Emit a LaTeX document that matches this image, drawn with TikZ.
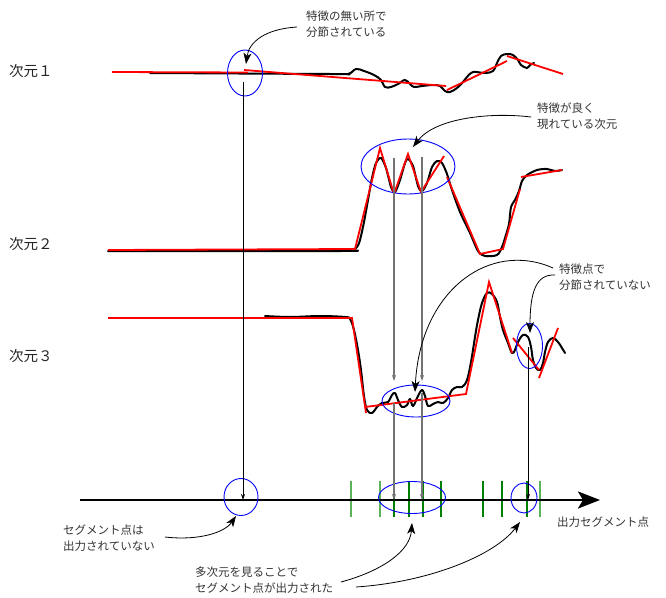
\documentclass[tikz,border=0pt]{standalone}
\usepackage{fontspec}
\newfontfamily\jp{Noto Sans CJK JP}
\usetikzlibrary{arrows.meta,shapes.geometric}
\definecolor{tickdark}{RGB}{0,128,0}
\definecolor{ticklight}{RGB}{90,180,90}
\begin{document}
\begin{tikzpicture}[x=1pt,y=-1pt,
  sig/.style={line width=2pt, black, line cap=round, line join=round},
  fitline/.style={line width=1.8pt, red},
  ring/.style={draw=blue, line width=0.9pt, ellipse, inner sep=0pt, outer sep=0pt},
  drop/.style={line width=0.8pt, black, -{Stealth[length=6pt,width=4pt]}},
  dropg/.style={line width=1.1pt, black!55, -{Stealth[length=6pt,width=4pt]}},
  ann/.style={line width=0.8pt, black, -{Stealth[length=11pt,width=8pt,inset=3pt]}},
  note/.style={font=\jp\fontsize{11.5}{16}\selectfont, text=black!80, align=left, anchor=west, inner sep=0pt},
  dimlab/.style={font=\jp\fontsize{14.5}{17}\selectfont, text=black!85, anchor=west, inner sep=0pt},
  tickA/.style={line width=1.1pt, draw=tickdark},
  tickB/.style={line width=1.1pt, draw=ticklight},
]
\fill[white] (0,0) rectangle (666,597);
\useasboundingbox (0,0) rectangle (666,597);

% labels
\node[dimlab] (lab1) at (9,71) {次元１};
\node[dimlab] (lab2) at (9,244) {次元２};
\node[dimlab] (lab3) at (9,356) {次元３};

% notes
\node[note] (t1) at (306,24.5) {特徴の無い所で\\分節されている};
\node[note] (t2) at (537,116) {特徴が良く\\現れている次元};
\node[note] (t3) at (559,277.5) {特徴点で\\分節されていない};
\node[note] (t4) at (63,538) {セグメント点は\\出力されていない};
\node[note] (t5) at (195,580.5) {多次元を見ることで\\セグメント点が出力された};
\node[note] (out) at (557,522) {出力セグメント点};

% ---- dimension 1 ----
\draw[sig] plot[smooth, tension=0.6] coordinates {(150,73) (330,74) (348,74) (356,69) (364,71) (374,75) (381,80) (385,87) (391,87) (398,84) (405,80) (410,84) (414,87) (422,86) (433,85) (440,86) (445,91) (450,92) (457,88) (463,82) (467,77) (473,72) (485,73) (493,71) (497,63) (501,56) (507,54) (513,55) (518,60) (521,65) (527,68) (530,65) (534,63)};
\draw[fitline] (112,72) -- (248,72.5);
\draw[fitline] (244,70) -- (446,86);
\draw[fitline] (447,90) -- (507,61);
\draw[fitline] (507,56) -- (563,74);

% ---- dimension 2 ----
\draw[sig] plot[smooth, tension=0.5] coordinates {(108,251) (340,251) (352,250) (357,247) (360,240) (364,222) (368,200) (372,178) (376,163) (381,158) (386,168) (391,187) (395,192) (400,180) (405,163) (408,159) (413,166) (418,186) (422,191) (427,183) (432,167) (437,161) (442,163) (447,174) (452,190) (460,212) (470,233) (478,251) (485,256) (497,255) (502,247) (505,238) (509,224) (511,207) (515,200) (519,191) (522,181) (527,175) (537,170) (547,169) (555,171) (562,170)};
\draw[fitline, line join=miter] (108,250) -- (355,249) -- (380,148) -- (394,194) -- (408,154) -- (421,192) -- (444,156);
\draw[fitline, line join=miter] (447,177) -- (480,254) -- (503,249) -- (520,189);
\draw[fitline] (521,177) -- (562,170);

% ---- dimension 3 ----
\draw[sig] plot[smooth, tension=0.6] coordinates {(265,316) (290,317) (320,316) (345,317) (350,319) (354,330) (358,350) (361,370) (364,396) (367,410) (372,413) (377,407) (382,403) (388,402) (392,395) (395,393) (398,400) (402,407) (407,405) (410,399) (413,406) (418,396) (422,390) (425,396) (428,406) (433,404) (438,402) (443,403) (448,398) (452,390) (457,387) (462,387) (467,380) (471,362) (475,337) (478,320) (482,303) (487,293) (492,294) (497,302) (500,317) (503,330) (508,343) (512,353) (515,350) (518,342) (523,335) (528,337) (531,347) (533,360) (536,368) (540,370) (543,363) (545,352) (548,342) (553,338) (558,342) (562,348) (565,353)};
\draw[fitline, line join=miter] (108,318) -- (352,318) -- (366,413);
\draw[fitline, line join=miter] (365,407) -- (466,394) -- (489,282) -- (512,353);
\draw[fitline] (513,338) -- (539,370);
\draw[fitline] (539,378) -- (558,328);

% ---- rings ----
\node[ring, minimum width=35pt, minimum height=46pt] (e1) at (245,73) {};
\node[ring, minimum width=94pt, minimum height=55pt] (e2) at (408,166.5) {};
\node[ring, minimum width=68pt, minimum height=32pt] (e3) at (416,401) {};
\node[ring, minimum width=26pt, minimum height=45pt] (e4) at (529.5,346) {};

% ---- output axis ----
\coordinate (axL) at (80,500);
\coordinate (axR) at (600,500);
\foreach \x/\s in {351/tickB,380/tickB,394/tickA,409/tickA,423/tickA,441/tickA,483/tickA,502/tickA,527/tickA,540/tickB}
  \draw[\s] (\x,481) -- (\x,517);
\draw[line width=2.5pt, -{Stealth[length=22pt,width=17pt,inset=5pt]}] (axL) -- (axR);
\node[ring, minimum width=34pt, minimum height=37pt] (a1) at (241,497) {};
\node[ring, minimum width=67pt, minimum height=32pt] (a2) at (412,497.5) {};
\node[ring, minimum width=26pt, minimum height=30pt] (a3) at (524,498) {};

% ---- drop lines ----
\coordinate (v1) at (243,82);
\coordinate (v2a) at (394,158);
\coordinate (v3a) at (422,157);
\coordinate (v2b) at (394,403);
\coordinate (v3b) at (422,393);
\coordinate (v4) at (528,347);
\draw[drop] (v1) -- (v1 |- axL);
\draw[dropg] (v2a) -- (394,381);
\draw[dropg] (v3a) -- (422,381);
\draw[dropg] (v2b) -- (v2b |- axL);
\draw[dropg] (v3b) -- (v3b |- axL);
\draw[drop] (v4) -- (v4 |- axL);

% ---- annotation arrows ----
\coordinate (s1) at (297,27);
\coordinate (p1) at (246,64);
\draw[ann] (s1) .. controls (265,29) and (249,42) .. (p1);
\coordinate (s2) at (531,117);
\coordinate (p2) at (413,147);
\draw[ann] (s2) .. controls (490,112) and (435,118) .. (p2);
\coordinate (s3) at (553,268);
\coordinate (p3) at (415,392);
\draw[ann] (s3) .. controls (490,240) and (420,290) .. (p3);
\coordinate (s4) at (555,275);
\coordinate (p4) at (530,333);
\draw[ann] (s4) .. controls (536,274) and (530,292) .. (p4);
\coordinate (s5) at (165,537);
\coordinate (p5) at (236,516);
\draw[ann] (s5) .. controls (200,541) and (225,532) .. (p5);
\coordinate (s6) at (341,582);
\coordinate (p6) at (412,523);
\draw[ann] (s6) .. controls (385,570) and (410,550) .. (p6);
\coordinate (s7) at (356,587);
\coordinate (p7) at (520,522);
\draw[ann] (s7) .. controls (430,582) and (495,555) .. (p7);
\end{tikzpicture}
\end{document}
